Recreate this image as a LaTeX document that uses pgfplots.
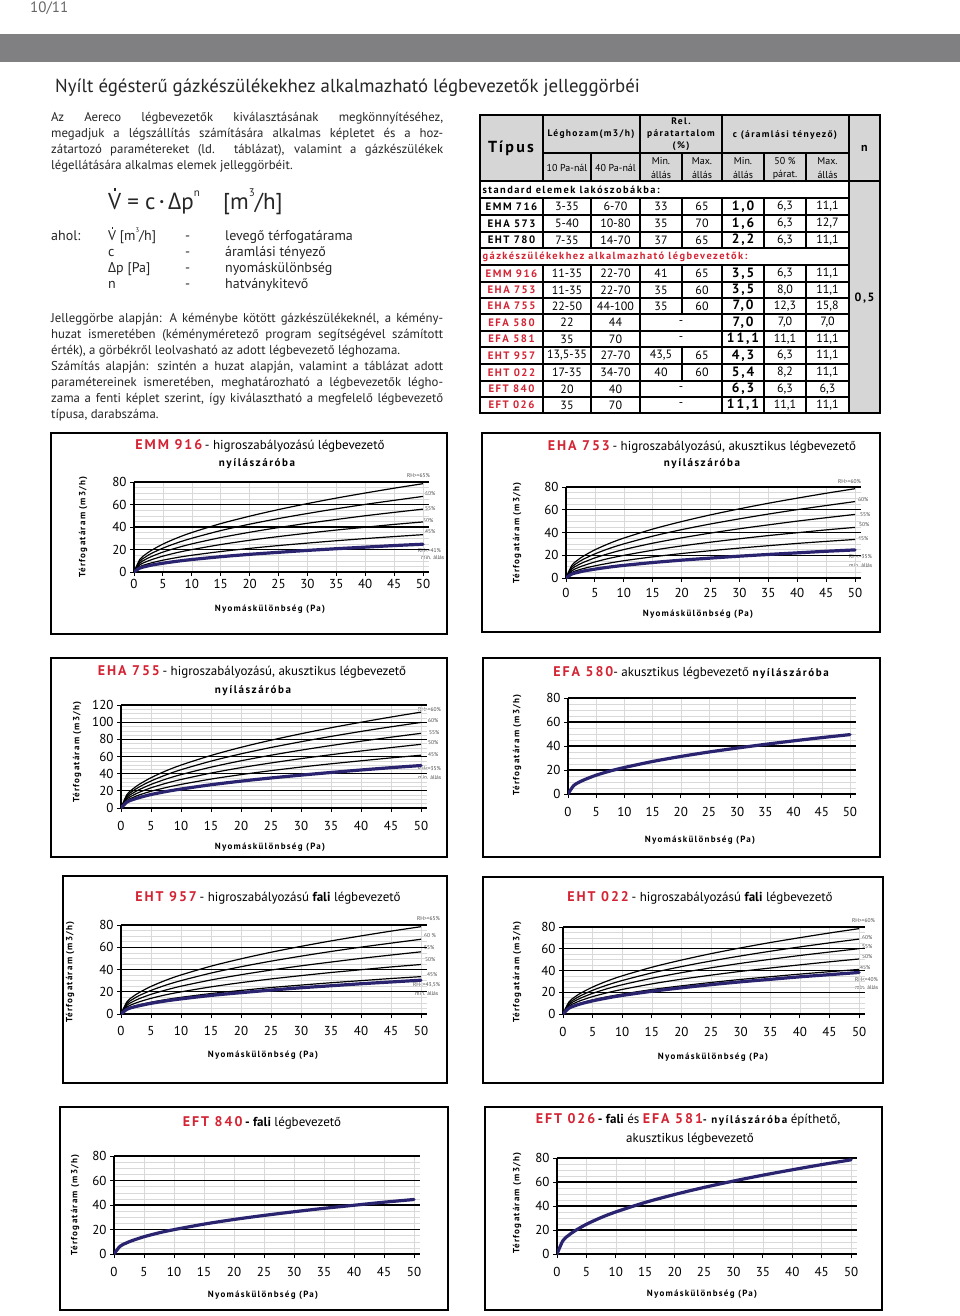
\documentclass[border=0pt]{standalone}
\usepackage{pgfplots}
\pgfplotsset{compat=1.18}
\usepackage{pgfplotstable}
\usepackage{fontspec}
\setmainfont{PT Sans}
\newfontfamily\spfont[LetterSpace=14]{PT Sans}
\newfontfamily\grfont{Open Sans}
\definecolor{hred}{RGB}{212,36,52}
\definecolor{navy}{RGB}{42,36,112}
\definecolor{band}{RGB}{128,128,131}
\definecolor{hdr}{RGB}{214,214,214}
\newcommand{\fs}[1]{\fontsize{#1}{#1}\selectfont}
\newcommand{\Vdot}{\leavevmode\rlap{\hspace{0.24em}\raisebox{0.8em}{\rule{0.1em}{0.1em}}}V}
\newcommand{\sups}[1]{\raisebox{0.55em}{\fontsize{0.48em}{0.48em}\selectfont #1}}
\newcommand{\tred}[1]{{\color{hred}\spfont\bfseries\fs{14}#1}}
\newcommand{\ylab}{\spfont\bfseries\fs{9}Térfogatáram (m3/h)}
\newcommand{\xlab}{\spfont\bfseries\fs{9}Nyomáskülönbség (Pa)}
\newcommand{\cl}[3]{\node[anchor=west,font=\fs{5.5},text=black!70] at (#1,#2) {#3};}
\newcommand{\tname}[3]{\node[text=#2] at (511.5,#1) {\spfont\bfseries\fs{10.8}#3};}
\newcommand{\tvals}[8]{\node at (567,#1){#2};\node at (615.5,#1){#3};\node at (661,#1){#4};\node at (702,#1){#5};\node at (743,#1){\spfont\bfseries\fs{13.5}#6};\node at (785,#1){#7};\node at (827.5,#1){#8};}
\newcommand{\tvalsd}[6]{\node at (567,#1){#2};\node at (615.5,#1){#3};\node at (681,#1){-};\node at (743,#1){\spfont\bfseries\fs{13.5}#4};\node at (785,#1){#5};\node at (827.5,#1){#6};}

\pgfplotstableread{
x a b c d e m
0 0 0 0 0 0 0
1 11.1 9.5 7.9 6.3 4.7 3.5
2 15.7 13.4 11.2 8.9 6.6 4.9
3 19.2 16.5 13.7 10.9 8.1 6.1
5 24.8 21.2 17.7 14.1 10.5 7.8
7.5 30.4 26.0 21.6 17.3 12.9 9.6
10 35.1 30.0 25.0 19.9 14.9 11.1
15 43.0 36.8 30.6 24.4 18.2 13.6
20 49.6 42.5 35.3 28.2 21.0 15.7
25 55.5 47.5 39.5 31.5 23.5 17.5
30 60.8 52.0 43.3 34.5 25.7 19.2
35 65.7 56.2 46.7 37.3 27.8 20.7
40 70.2 60.1 50.0 39.8 29.7 22.1
45 74.5 63.7 53.0 42.3 31.5 23.5
50 78.5 67.2 55.9 44.5 33.2 24.7
}\tEMM
\pgfplotstableread{
x a b c d e m
0 0 0 0 0 0 0
1 11.1 9.5 7.9 6.3 4.8 3.5
2 15.7 13.4 11.2 8.9 6.8 4.9
3 19.2 16.5 13.7 10.9 8.3 6.1
5 24.8 21.2 17.7 14.1 10.7 7.8
7.5 30.4 26.0 21.6 17.3 13.1 9.6
10 35.1 30.0 25.0 19.9 15.2 11.1
15 43.0 36.8 30.6 24.4 18.6 13.6
20 49.6 42.5 35.3 28.2 21.5 15.7
25 55.5 47.5 39.5 31.5 24.0 17.5
30 60.8 52.0 43.3 34.5 26.3 19.2
35 65.7 56.2 46.7 37.3 28.4 20.7
40 70.2 60.1 50.0 39.8 30.4 22.1
45 74.5 63.7 53.0 42.3 32.2 23.5
50 78.5 67.2 55.9 44.5 33.9 24.7
}\tEHAa
\pgfplotstableread{
x a b c d e m
0 0 0 0 0 0 0
1 15.8 14.1 12.3 10.5 8.7 7.0
2 22.3 19.9 17.4 14.8 12.3 9.9
3 27.4 24.4 21.3 18.2 15.1 12.1
5 35.3 31.5 27.5 23.5 19.5 15.7
7.5 43.3 38.6 33.7 28.8 23.8 19.2
10 50.0 44.6 38.9 33.2 27.5 22.1
15 61.2 54.6 47.6 40.7 33.7 27.1
20 70.7 63.1 55.0 47.0 38.9 31.3
25 79.0 70.5 61.5 52.5 43.5 35.0
30 86.5 77.2 67.4 57.5 47.7 38.3
35 93.5 83.4 72.8 62.1 51.5 41.4
40 99.9 89.2 77.8 66.4 55.0 44.3
45 106.0 94.6 82.5 70.4 58.4 47.0
50 111.7 99.7 87.0 74.2 61.5 49.5
}\tEHAb
\pgfplotstableread{
x m
0 0
1 7.0
2 9.9
3 12.1
5 15.7
7.5 19.2
10 22.1
15 27.1
20 31.3
25 35.0
30 38.3
35 41.4
40 44.3
45 47.0
50 49.5
}\tEFA
\pgfplotstableread{
x a b c d e m
0 0 0 0 0 0 0
1 11.1 9.5 7.9 6.3 4.75 4.3
2 15.7 13.4 11.2 8.9 6.7 6.1
3 19.2 16.5 13.7 10.9 8.2 7.4
5 24.8 21.2 17.7 14.1 10.6 9.6
7.5 30.4 26.0 21.6 17.3 13.0 11.8
10 35.1 30.0 25.0 19.9 15.0 13.6
15 43.0 36.8 30.6 24.4 18.4 16.7
20 49.6 42.5 35.3 28.2 21.2 19.2
25 55.5 47.5 39.5 31.5 23.8 21.5
30 60.8 52.0 43.3 34.5 26.0 23.6
35 65.7 56.2 46.7 37.3 28.1 25.4
40 70.2 60.1 50.0 39.8 30.0 27.2
45 74.5 63.7 53.0 42.3 31.9 28.8
50 78.5 67.2 55.9 44.5 33.6 30.4
}\tEHTa
\pgfplotstableread{
x a b c d e m
0 0 0 0 0 0 0
1 11.1 9.75 8.5 7.15 5.8 5.4
2 15.7 13.8 12.0 10.1 8.2 7.6
3 19.2 16.9 14.7 12.4 10.0 9.4
5 24.8 21.8 19.0 16.0 13.0 12.1
7.5 30.4 26.7 23.3 19.6 15.9 14.8
10 35.1 30.8 26.9 22.6 18.3 17.1
15 43.0 37.8 32.9 27.7 22.5 20.9
20 49.6 43.6 38.0 32.0 25.9 24.1
25 55.5 48.75 42.5 35.75 29.0 27.0
30 60.8 53.4 46.6 39.2 31.8 29.6
35 65.7 57.7 50.3 42.3 34.3 31.9
40 70.2 61.7 53.8 45.2 36.7 34.2
45 74.5 65.4 57.0 48.0 38.9 36.2
50 78.5 68.9 60.1 50.6 41.0 38.2
}\tEHTb
\pgfplotstableread{
x m
0 0
1 6.3
2 8.9
3 10.9
5 14.1
7.5 17.3
10 19.9
15 24.4
20 28.2
25 31.5
30 34.5
35 37.3
40 39.8
45 42.3
50 44.5
}\tEFTa
\pgfplotstableread{
x m
0 0
1 11.1
2 15.7
3 19.2
5 24.8
7.5 30.4
10 35.1
15 43.0
20 49.6
25 55.5
30 60.8
35 65.7
40 70.2
45 74.5
50 78.5
}\tEFTb

\pgfplotsset{
 gchart/.style={
   scale only axis, anchor=south west,
   xmin=0, xmax=51, ymin=0,
   axis lines*=left,
   axis line style={black, line width=1.3pt},
   xtick={0,5,...,50},
   tick align=outside, major tick length=4pt, minor tick length=0pt,
   tick style={black, line width=0.9pt},
   xmajorgrids, ymajorgrids, yminorgrids, minor y tick num=3,
   major y grid style={black, line width=1.3pt},
   major x grid style={black!15, line width=0.5pt},
   minor y grid style={black!15, line width=0.5pt},
   tick label style={font=\fs{13}},
   /pgf/number format/assume math mode=true,
 },
 hcurve/.style={black, line width=1.2pt, smooth},
 mincurve/.style={navy, line width=3.2pt, smooth, line cap=round},
}

\begin{document}
\begin{tikzpicture}
\useasboundingbox (0pt,0pt) rectangle (960pt,-1316pt);
\fill[white] (0pt,0pt) rectangle (960pt,-1316pt);
\begin{scope}[x=1pt,y=-1pt, every node/.style={inner sep=0pt}]
% header
\node[anchor=base west, text=black!60] at (30,13) {\fs{15}10/11};
\fill[band] (0,34) rectangle (960,62);
\node[anchor=base west, text=black!85] at (55,93) {\fs{18.8}Nyílt égésterű gázkészülékekhez alkalmazható légbevezetők jelleggörbéi};
% paragraph 1
\begin{scope}[every node/.style={inner sep=0pt, anchor=base west, text=black!85, font=\fs{12.8}}]
\node at (51,122) {\makebox[392pt][s]{Az Aereco légbevezetők kiválasztásának megkönnyítéséhez,}};
\node at (51,138) {\makebox[392pt][s]{megadjuk a légszállítás számítására alkalmas képletet és a hoz-}};
\node at (51,154) {\makebox[392pt][s]{zátartozó paramétereket (ld. táblázat), valamint a gázkészülékek}};
\node at (51,170) {légellátására alkalmas elemek jelleggörbéit.};
\node at (108,209) {\fs{23}\Vdot\ =\ c\,\raisebox{0.15em}{\fs{11}\textbullet}\,{\grfont Δ}p\sups{n}};
\node at (223,209) {\fs{23}[m\sups{3}/h]};
\node at (51,240) {\fs{14}ahol:};
\node at (108,240) {\fs{14}\Vdot\ [m\sups{3}/h]};
\node at (108,256) {\fs{14}c};
\node at (108,272) {\fs{14}{\grfont Δ}p [Pa]};
\node at (108,288) {\fs{14}n};
\node at (185,240) {\fs{14}-};
\node at (185,256) {\fs{14}-};
\node at (185,272) {\fs{14}-};
\node at (185,288) {\fs{14}-};
\node at (225,240) {\fs{14}levegő térfogatárama};
\node at (225,256) {\fs{14}áramlási tényező};
\node at (225,272) {\fs{14}nyomáskülönbség};
\node at (225,288) {\fs{14}hatványkitevő};
\node at (51,322) {\makebox[392pt][s]{Jelleggörbe alapján: A kéménybe kötött gázkészülékeknél, a kémény-}};
\node at (51,338) {\makebox[392pt][s]{huzat ismeretében (kéményméretező program segítségével számított}};
\node at (51,354) {érték), a görbékről leolvasható az adott légbevezető léghozama.};
\node at (51,370) {\makebox[392pt][s]{Számítás alapján: szintén a huzat alapján, valamint a táblázat adott}};
\node at (51,386) {\makebox[392pt][s]{paramétereinek ismeretében, meghatározható a légbevezetők légho-}};
\node at (51,402) {\makebox[392pt][s]{zama a fenti képlet szerint, így kiválasztható a megfelelő légbevezető}};
\node at (51,418) {típusa, darabszáma.};
\end{scope}
% table
\begin{scope}[every node/.style={inner sep=0pt, font=\fs{12}}, line width=1.2pt]
\fill[hdr] (480,115) rectangle (880,181);
\fill[hdr] (849,181) rectangle (880,413);
\draw (480,115) -- (880,115);
\draw (543,153) -- (849,153);
\draw (480,181) -- (880,181);
\foreach \y in {198,215,232,248,265,282,298,314,331,347,364,381,397} \draw (480,\y) -- (849,\y);
\draw (480,413) -- (880,413);
\draw (480,115) -- (480,413);
\draw (849,115) -- (849,413);
\foreach \x in {543,640,722} \draw (\x,115)--(\x,181) (\x,198)--(\x,248) (\x,265)--(\x,413);
\foreach \x in {591,764,806} \draw (\x,153)--(\x,181) (\x,198)--(\x,248) (\x,265)--(\x,413);
\draw (682,153)--(682,181) (682,198)--(682,248) (682,265)--(682,314) (682,347)--(682,381);
\draw[line width=2.2pt] (480,115) rectangle (880,413);
\node at (511,148) {\spfont\bfseries\fs{16}Típus};
\node at (591,134) {\spfont\bfseries\fs{9.5}Léghozam(m3/h)};
\node at (681,121) {\spfont\bfseries\fs{9.5}Rel.};
\node at (681,134) {\spfont\bfseries\fs{9.5}páratartalom};
\node at (681,146) {\spfont\bfseries\fs{9.5}(\%)};
\node at (785,135) {\spfont\bfseries\fs{9.5}c (áramlási tényező)};
\node at (864.5,148) {\bfseries\fs{12}n};
\node at (567,168) {\fs{10}10 Pa-nál};
\node at (615.5,168) {\fs{10}40 Pa-nál};
\node at (661,161) {\fs{10}Min.}; \node at (661,175) {\fs{10}állás};
\node at (702,161) {\fs{10}Max.}; \node at (702,175) {\fs{10}állás};
\node at (743,161) {\fs{10}Min.}; \node at (743,175) {\fs{10}állás};
\node at (785,161) {\fs{10}50 \%}; \node at (785,175) {\fs{10}párat.};
\node at (827.5,161) {\fs{10}Max.}; \node at (827.5,175) {\fs{10}állás};
\node[anchor=west] at (482,190) {\spfont\bfseries\fs{10.4}standard elemek lakószobákba:};
\node[anchor=west, text=hred] at (482,257) {\spfont\bfseries\fs{10.4}gázkészülékekhez alkalmazható légbevezetők:};
\tname{206.5}{black}{EMM 716}\tvals{206.5}{3-35}{6-70}{33}{65}{1,0}{6,3}{11,1}
\tname{223.5}{black}{EHA 573}\tvals{223.5}{5-40}{10-80}{35}{70}{1,6}{6,3}{12,7}
\tname{240}{black}{EHT 780}\tvals{240}{7-35}{14-70}{37}{65}{2,2}{6,3}{11,1}
\tname{273.5}{hred}{EMM 916}\tvals{273.5}{11-35}{22-70}{41}{65}{3,5}{6,3}{11,1}
\tname{290}{hred}{EHA 753}\tvals{290}{11-35}{22-70}{35}{60}{3,5}{8,0}{11,1}
\tname{306}{hred}{EHA 755}\tvals{306}{22-50}{44-100}{35}{60}{7,0}{12,3}{15,8}
\tname{322.5}{hred}{EFA 580}\tvalsd{322.5}{22}{44}{7,0}{7,0}{7,0}
\tname{339}{hred}{EFA 581}\tvalsd{339}{35}{70}{11,1}{11,1}{11,1}
\tname{355.5}{hred}{EHT 957}\tvals{355.5}{13,5-35}{27-70}{43,5}{65}{4,3}{6,3}{11,1}
\tname{372.5}{hred}{EHT 022}\tvals{372.5}{17-35}{34-70}{40}{60}{5,4}{8,2}{11,1}
\tname{389}{hred}{EFT 840}\tvalsd{389}{20}{40}{6,3}{6,3}{6,3}
\tname{405}{hred}{EFT 026}\tvalsd{405}{35}{70}{11,1}{11,1}{11,1}
\node at (864.5,298) {\spfont\bfseries\fs{12}0,5};
\end{scope}
% chart boxes
\begin{scope}[line width=1.7pt]
\draw (51,433) rectangle (447,634);
\draw (482,433) rectangle (880,632);
\draw (51,658) rectangle (447,857);
\draw (483,658) rectangle (880,857);
\draw (63,876) rectangle (447,1083);
\draw (483,877) rectangle (883,1083);
\draw (60,1107) rectangle (448,1310);
\draw (485,1107) rectangle (882,1310);
\end{scope}
% titles
\node at (260,446) {\tred{EMM 916} \fs{13}- higroszabályozású légbevezető};
\node at (257,464) {\spfont\bfseries\fs{11}nyílászáróba};
\node at (702,447) {\tred{EHA 753} \fs{13}- higroszabályozású, akusztikus légbevezető};
\node at (702,464) {\spfont\bfseries\fs{11}nyílászáróba};
\node at (252,672) {\tred{EHA 755} \fs{13}- higroszabályozású, akusztikus légbevezető};
\node at (253,691) {\spfont\bfseries\fs{11}nyílászáróba};
\node at (691,673) {\tred{EFA 580}\fs{13}- akusztikus légbevezető {\spfont\bfseries\fs{11}nyílászáróba}};
\node at (268,898) {\tred{EHT 957} \fs{13}- higroszabályozású {\bfseries fali} légbevezető};
\node at (700,898) {\tred{EHT 022} \fs{13}- higroszabályozású {\bfseries fali} légbevezető};
\node at (262,1123) {\tred{EFT 840} \fs{13}{\bfseries - fali} légbevezető};
\node at (688,1120) {\tred{EFT 026} \fs{13}{\bfseries - fali} és \tred{EFA 581}{\spfont\bfseries\fs{11}- nyílászáróba} \fs{13}építhető,};
\node at (690,1139) {\fs{13}akusztikus légbevezető};
% axis labels
\node[rotate=90] at (83,527) {\ylab}; \node at (270,609) {\xlab};
\node[rotate=90] at (517,533) {\ylab}; \node at (698,614) {\xlab};
\node[rotate=90] at (77,752) {\ylab}; \node at (270,847) {\xlab};
\node[rotate=90] at (517,745) {\ylab}; \node at (700,840) {\xlab};
\node[rotate=90] at (70,972) {\ylab}; \node at (263,1055) {\xlab};
\node[rotate=90] at (517,972) {\ylab}; \node at (713,1057) {\xlab};
\node[rotate=90] at (75,1205) {\ylab}; \node at (263,1295) {\xlab};
\node[rotate=90] at (517,1203) {\ylab}; \node at (702,1294) {\xlab};
% curve labels
\node[anchor=east,font=\fs{5.5},text=black!70] at (430,476) {RH>=65\%};
\cl{425}{494}{60\%}\cl{425}{509}{55\%}\cl{423}{521}{50\%}\cl{425}{532}{45\%}\cl{418}{551}{RH<=41\%}\cl{421}{558}{min. állás}
\cl{838}{482}{RH>=60\%}\cl{858}{500}{60\%}\cl{860}{515}{55\%}\cl{859}{525}{50\%}\cl{858}{539}{45\%}\cl{849}{557}{RH<=35\%}\cl{849}{566}{min. állás}
\cl{418}{710}{RH>=60\%}\cl{428}{721}{60\%}\cl{429}{733}{55\%}\cl{428}{743}{50\%}\cl{428}{755}{45\%}\cl{418}{769}{RH<=35\%}\cl{418}{778}{min. állás}
\cl{417}{919}{RH>=65\%}\cl{424}{936}{60 \%}\cl{424}{948}{55\%}\cl{425}{960}{50\%}\cl{427}{975}{45\%}\cl{413}{985}{RH<=43,5\%}\cl{415}{994}{min. állás}
\cl{852}{921}{RH>=60\%}\cl{862}{938}{60\%}\cl{862}{947}{55\%}\cl{862}{957}{50\%}\cl{860}{968}{45\%}\cl{855}{980}{RH<=40\%}\cl{855}{988}{min. állás}
\end{scope}

% charts
\begin{axis}[gchart, at={(134pt,-572pt)}, width=294.8pt, height=90pt, ymax=80, ytick={0,20,...,80}]
\addplot[hcurve] table[x=x,y=a]{\tEMM};
\addplot[hcurve] table[x=x,y=b]{\tEMM};
\addplot[hcurve] table[x=x,y=c]{\tEMM};
\addplot[hcurve] table[x=x,y=d]{\tEMM};
\addplot[hcurve] table[x=x,y=e]{\tEMM};
\addplot[mincurve] table[x=x,y=m]{\tEMM};
\end{axis}
\begin{axis}[gchart, at={(566pt,-578pt)}, width=294.8pt, height=91pt, ymax=80, ytick={0,20,...,80}, xticklabel style={yshift=-3pt}]
\addplot[hcurve] table[x=x,y=a]{\tEHAa};
\addplot[hcurve] table[x=x,y=b]{\tEHAa};
\addplot[hcurve] table[x=x,y=c]{\tEHAa};
\addplot[hcurve] table[x=x,y=d]{\tEHAa};
\addplot[hcurve] table[x=x,y=e]{\tEHAa};
\addplot[mincurve] table[x=x,y=m]{\tEHAa};
\end{axis}
\begin{axis}[gchart, at={(121pt,-808pt)}, width=306pt, height=103pt, ymax=120, ytick={0,20,...,120}, xticklabel style={yshift=-6pt}]
\addplot[hcurve] table[x=x,y=a]{\tEHAb};
\addplot[hcurve] table[x=x,y=b]{\tEHAb};
\addplot[hcurve] table[x=x,y=c]{\tEHAb};
\addplot[hcurve] table[x=x,y=d]{\tEHAb};
\addplot[hcurve] table[x=x,y=e]{\tEHAb};
\addplot[mincurve] table[x=x,y=m]{\tEHAb};
\end{axis}
\begin{axis}[gchart, at={(568pt,-794pt)}, width=287.6pt, height=96pt, ymax=80, ytick={0,20,...,80}, xticklabel style={yshift=-6pt}]
\addplot[mincurve] table[x=x,y=m]{\tEFA};
\end{axis}
\begin{axis}[gchart, at={(121pt,-1014pt)}, width=306pt, height=89pt, ymax=80, ytick={0,20,...,80}, xticklabel style={yshift=-5pt}]
\addplot[hcurve] table[x=x,y=a]{\tEHTa};
\addplot[hcurve] table[x=x,y=b]{\tEHTa};
\addplot[hcurve] table[x=x,y=c]{\tEHTa};
\addplot[hcurve] table[x=x,y=d]{\tEHTa};
\addplot[hcurve] table[x=x,y=e]{\tEHTa};
\addplot[mincurve] table[x=x,y=m]{\tEHTa};
\end{axis}
\begin{axis}[gchart, at={(563pt,-1014pt)}, width=302pt, height=87pt, ymax=80, ytick={0,20,...,80}, xticklabel style={yshift=-6pt}]
\addplot[hcurve] table[x=x,y=a]{\tEHTb};
\addplot[hcurve] table[x=x,y=b]{\tEHTb};
\addplot[hcurve] table[x=x,y=c]{\tEHTb};
\addplot[hcurve] table[x=x,y=d]{\tEHTb};
\addplot[hcurve] table[x=x,y=e]{\tEHTb};
\addplot[mincurve] table[x=x,y=m]{\tEHTb};
\end{axis}
\begin{axis}[gchart, at={(114pt,-1254pt)}, width=306pt, height=98pt, ymax=80, ytick={0,20,...,80}, xticklabel style={yshift=-6pt}]
\addplot[mincurve] table[x=x,y=m]{\tEFTa};
\end{axis}
\begin{axis}[gchart, at={(557pt,-1254pt)}, width=300pt, height=96pt, ymax=80, ytick={0,20,...,80}, xticklabel style={yshift=-6pt}]
\addplot[mincurve] table[x=x,y=m]{\tEFTb};
\end{axis}
\end{tikzpicture}
\end{document}
